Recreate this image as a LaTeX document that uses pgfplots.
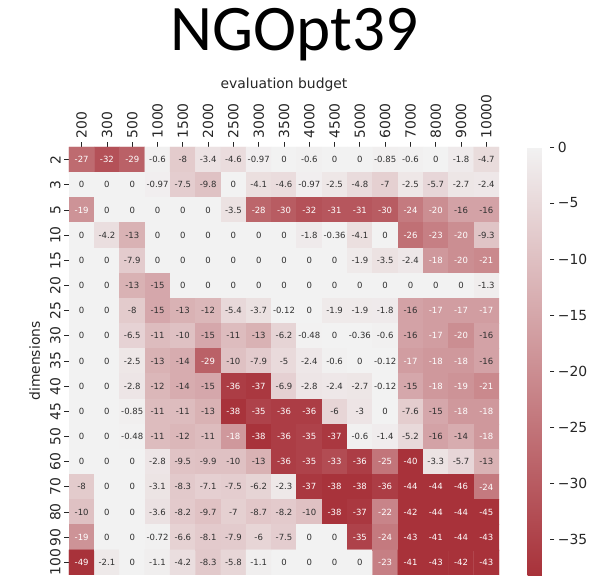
\documentclass[border=0pt]{standalone}
\usepackage{fontspec}
\setmainfont{DejaVu Sans}
\newfontfamily\titlefont{Carlito}
\usepackage{pgfplots}
\usepackage{pgfplotstable}
\pgfplotsset{compat=1.18}
\definecolor{annot}{RGB}{48,48,48}
\definecolor{tickgray}{RGB}{38,38,38}

% one row per dimension (2 ... 100), 17 budgets per row (200 ... 10000)
\pgfplotstableread[row sep=\\]{
v\\
-27\\ -32\\ -29\\ -0.6\\ -8\\ -3.4\\ -4.6\\ -0.97\\ 0\\ -0.6\\ 0\\ 0\\ -0.85\\ -0.6\\ 0\\ -1.8\\ -4.7\\
0\\ 0\\ 0\\ -0.97\\ -7.5\\ -9.8\\ 0\\ -4.1\\ -4.6\\ -0.97\\ -2.5\\ -4.8\\ -7\\ -2.5\\ -5.7\\ -2.7\\ -2.4\\
-19\\ 0\\ 0\\ 0\\ 0\\ 0\\ -3.5\\ -28\\ -30\\ -32\\ -31\\ -31\\ -30\\ -24\\ -20\\ -16\\ -16\\
0\\ -4.2\\ -13\\ 0\\ 0\\ 0\\ 0\\ 0\\ 0\\ -1.8\\ -0.36\\ -4.1\\ 0\\ -26\\ -23\\ -20\\ -9.3\\
0\\ 0\\ -7.9\\ 0\\ 0\\ 0\\ 0\\ 0\\ 0\\ 0\\ 0\\ -1.9\\ -3.5\\ -2.4\\ -18\\ -20\\ -21\\
0\\ 0\\ -13\\ -15\\ 0\\ 0\\ 0\\ 0\\ 0\\ 0\\ 0\\ 0\\ 0\\ 0\\ 0\\ 0\\ -1.3\\
0\\ 0\\ -8\\ -15\\ -13\\ -12\\ -5.4\\ -3.7\\ -0.12\\ 0\\ -1.9\\ -1.9\\ -1.8\\ -16\\ -17\\ -17\\ -17\\
0\\ 0\\ -6.5\\ -11\\ -10\\ -15\\ -11\\ -13\\ -6.2\\ -0.48\\ 0\\ -0.36\\ -0.6\\ -16\\ -17\\ -20\\ -16\\
0\\ 0\\ -2.5\\ -13\\ -14\\ -29\\ -10\\ -7.9\\ -5\\ -2.4\\ -0.6\\ 0\\ -0.12\\ -17\\ -18\\ -18\\ -16\\
0\\ 0\\ -2.8\\ -12\\ -14\\ -15\\ -36\\ -37\\ -6.9\\ -2.8\\ -2.4\\ -2.7\\ -0.12\\ -15\\ -18\\ -19\\ -21\\
0\\ 0\\ -0.85\\ -11\\ -11\\ -13\\ -38\\ -35\\ -36\\ -36\\ -6\\ -3\\ 0\\ -7.6\\ -15\\ -18\\ -18\\
0\\ 0\\ -0.48\\ -11\\ -12\\ -11\\ -18\\ -38\\ -36\\ -35\\ -37\\ -0.6\\ -1.4\\ -5.2\\ -16\\ -14\\ -18\\
0\\ 0\\ 0\\ -2.8\\ -9.5\\ -9.9\\ -10\\ -13\\ -36\\ -35\\ -33\\ -36\\ -25\\ -40\\ -3.3\\ -5.7\\ -13\\
-8\\ 0\\ 0\\ -3.1\\ -8.3\\ -7.1\\ -7.5\\ -6.2\\ -2.3\\ -37\\ -38\\ -38\\ -36\\ -44\\ -44\\ -46\\ -24\\
-10\\ 0\\ 0\\ -3.6\\ -8.2\\ -9.7\\ -7\\ -8.7\\ -8.2\\ -10\\ -38\\ -37\\ -22\\ -42\\ -44\\ -44\\ -45\\
-19\\ 0\\ 0\\ -0.72\\ -6.6\\ -8.1\\ -7.9\\ -6\\ -7.5\\ 0\\ 0\\ -35\\ -24\\ -43\\ -41\\ -44\\ -43\\
-49\\ -2.1\\ 0\\ -1.1\\ -4.2\\ -8.3\\ -5.8\\ -1.1\\ 0\\ 0\\ 0\\ 0\\ -23\\ -41\\ -43\\ -42\\ -43\\
}\hm

\begin{document}
\begin{tikzpicture}
\begin{axis}[
  name=hm,
  width=430pt, height=428pt, scale only axis,
  xmin=-0.5, xmax=16.5, ymin=-0.5, ymax=16.5,
  enlargelimits=false,
  axis x line*=top, axis y line*=left,
  axis line style={draw=none},
  tick align=outside,
  major tick length=4.9pt,
  every tick/.style={tickgray, line width=0.8pt},
  xtick={0,...,16},
  xticklabels={200,300,500,1000,1500,2000,2500,3000,3500,4000,4500,5000,6000,7000,8000,9000,10000},
  ytick={0,...,16},
  yticklabels={100,90,80,70,60,50,45,40,35,30,25,20,15,10,5,3,2},
  xticklabel style={rotate=90, anchor=west},
  yticklabel style={rotate=90, anchor=south},
  tick label style={font=\fontsize{13.9}{16}\selectfont, text=tickgray},
  label style={font=\fontsize{13.9}{16}\selectfont, text=tickgray},
  xlabel={evaluation budget},
  xlabel style={yshift=-4pt},
  ylabel={dimensions},
  ylabel style={yshift=3pt},
  title={NGOpt39},
  title style={at={(0.5,1)}, anchor=base, yshift=90pt, xshift=10.5pt,
    font=\titlefont\fontsize{65}{70}\selectfont},
  colormap={rb}{rgb255=(168,50,58) rgb255=(242,242,242)},
  point meta min=-38.2, point meta max=0,
  colorbar,
  colorbar style={
    at={(parent axis.north east)}, anchor=north west, xshift=20pt,
    width=22pt,
    axis line style={draw=none},
    ytick pos=right,
    ytick={-35,-30,-25,-20,-15,-10,-5,0},
    yticklabels={−35,−30,−25,−20,−15,−10,−5,0},
    tick align=outside,
    major tick length=4.9pt,
    yticklabel style={font=\fontsize{13.9}{16}\selectfont, text=tickgray},
  },
]
% cell column and row from \coordindex (the 0.5 keeps floor clear of rounding)
\addplot[matrix plot*, mesh/cols=17, point meta=explicit]
  table[x index=0, y index=0,
    x expr={\coordindex-17*floor((\coordindex+0.5)/17)},
    y expr={16-floor((\coordindex+0.5)/17)}, meta=v] {\hm};
\addplot[draw=none, mark=none, point meta=explicit symbolic,
  nodes near coords={\pgfmathtruncatemacro\w{\pgfplotspointmeta<-16.9}%
    \ifnum\w=1 \color{white}\else\color{annot}\fi\pgfplotspointmeta},
  every node near coord/.append style={anchor=center, inner sep=0pt,
    font=\fontsize{8.5}{10}\selectfont}]
  table[x index=0, y index=0,
    x expr={\coordindex-17*floor((\coordindex+0.5)/17)},
    y expr={16-floor((\coordindex+0.5)/17)}, meta=v] {\hm};
\end{axis}
\pgfresetboundingbox
\path (hm.south west) ++(-69pt,-1pt) rectangle ++(590pt,576pt);
\end{tikzpicture}
\end{document}
